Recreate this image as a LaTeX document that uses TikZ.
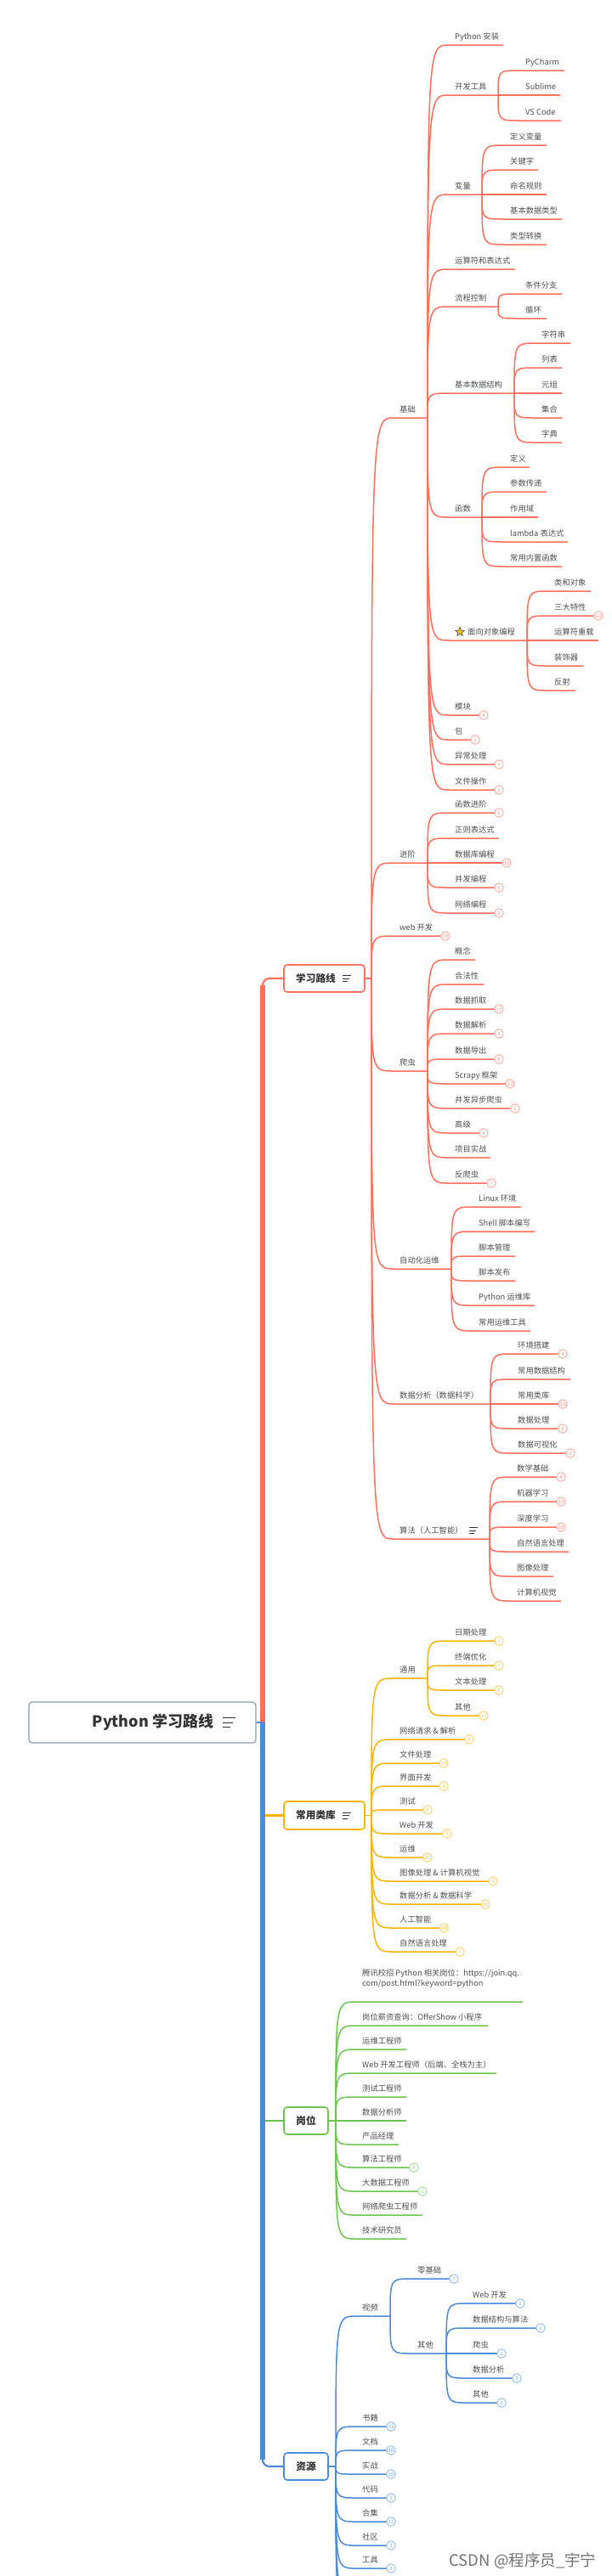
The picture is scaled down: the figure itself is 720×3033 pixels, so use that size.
\documentclass[tikz,border=0pt]{standalone}
\usepackage{fontspec}
\setmainfont{Noto Sans CJK SC}
\usetikzlibrary{calc,shapes.geometric}
\definecolor{cRed}{HTML}{FF6F5B}
\definecolor{cYel}{HTML}{FFB300}
\definecolor{cGrn}{HTML}{6CC64E}
\definecolor{cBlu}{HTML}{4B8BDA}
\definecolor{cRoot}{HTML}{8A9BB5}
\definecolor{cTxt}{HTML}{505050}
\definecolor{cDark}{HTML}{333333}
\definecolor{cStar}{HTML}{F9C31A}
\def\brc{cRed}
\tikzset{
  lbl/.style={anchor=base west, inner sep=0pt, font=\fontsize{9.3}{11.7}\selectfont, text=cTxt},
  br/.style={draw=\brc, line width=1.5pt},
  badge/.style={circle, draw=\brc!60, fill=white, line width=0.9pt, minimum size=10.5pt, inner sep=0pt, font=\fontsize{6}{6}\selectfont, text=\brc!75},
  mainbox/.style={draw=#1, line width=1.6pt, rounded corners=4pt, fill=white, inner sep=0pt},
  maintxt/.style={inner sep=0pt, font=\bfseries\fontsize{11.7}{13}\selectfont, text=cDark},
  menuicon/.pic={\draw[cDark, line width=0.8pt] (0,-3.5)--(10,-3.5) (0,0)--(8,0) (0,3.5)--(6,3.5);}
}
\newcommand\LF[6]{%
  \coordinate (#1s) at (#3-7,#4);
  \coordinate (#1e) at (#5,#4);
  \node[lbl] (#1) at (#3,#4-6.3) {#6};
  \draw[br] (#2) .. controls (#2 |- #1s) .. (#1s) -- (#1e);
}
\newcommand\LB[7]{%
  \coordinate (#1s) at (#3-7,#4);
  \node[lbl] (#1) at (#3,#4-6.3) {#7};
  \draw[br] (#2) .. controls (#2 |- #1s) .. (#1s) -- (#5-5.25,#4);
  \node[badge] (#1b) at (#5,#4) {#6};
}
\begin{document}
\begin{tikzpicture}[x=1pt,y=-1pt]
\useasboundingbox (0,0) rectangle (720,3033);
\fill[white] (0,0) rectangle (720,3033);

% ---------- root and trunk ----------
\node[draw=cRoot, line width=1.2pt, rounded corners=4pt, minimum width=267pt, minimum height=48pt, inner sep=0pt] (root) at (167.5,2028) {};
\node[inner sep=0pt, font=\bfseries\fontsize{18}{20}\selectfont, text=cDark] (roottxt) at (180,2028) {Python 学习路线};
\pic[scale=1.5] at (262,2028) {menuicon};
\coordinate (tr) at (309,2028);

\node[mainbox=cRed, minimum width=95pt, minimum height=32pt] (xx) at (381.5,1152) {};
\node[maintxt] (xxt) at (371.5,1152) {学习路线};
\pic at (403,1152) {menuicon};

\node[mainbox=cYel, minimum width=95pt, minimum height=33pt] (cy) at (381.5,2137.5) {};
\node[maintxt] (cyt) at (371.5,2137.5) {常用类库};
\pic at (403,2137.5) {menuicon};

\node[mainbox=cGrn, minimum width=52pt, minimum height=32pt] (gw) at (360,2497) {};
\node[maintxt] (gwt) at (360,2497) {岗位};

\node[mainbox=cBlu, minimum width=52pt, minimum height=32pt] (zy) at (360,2904) {};
\node[maintxt] (zyt) at (360,2904) {资源};

\draw[cRed, line width=5.5pt] (tr) -- ($(tr |- xx.west)+(0,8)$);
\draw[cRed, line width=2.2pt, rounded corners=8pt] ($(tr |- xx.west)+(0,14)$) |- (xx.west);
\draw[cBlu, line width=5.5pt] (tr) -- ($(tr |- zy.west)+(0,-8)$);
\draw[cBlu, line width=2.2pt, rounded corners=8pt] ($(tr |- zy.west)+(0,-14)$) |- (zy.west);
\draw[cBlu, line width=2.2pt] (root.east) -- (tr);
\draw[cYel, line width=2.2pt] ($(tr |- cy.west)+(2.7,0)$) -- (cy.west);
\draw[cGrn, line width=2.2pt] ($(tr |- gw.west)+(2.7,0)$) -- (gw.west);

% ---------- 学习路线 (red) ----------
\def\brc{cRed}
\coordinate (xxh) at (437,1152);
\draw[br] (xx.east) -- (xxh);
\LF{jc}{xxh}{470}{492}{503}{基础}
\LF{a1}{jce}{535}{53}{592}{Python 安装}
\LF{a2}{jce}{535}{112}{586}{开发工具}
\LF{a21}{a2e}{618}{83}{664}{PyCharm}
\LF{a22}{a2e}{618}{112}{659}{Sublime}
\LF{a23}{a2e}{618}{142}{660}{VS Code}
\LF{a3}{jce}{535}{229}{567}{变量}
\LF{a31}{a3e}{600}{171}{643}{定义变量}
\LF{a32}{a3e}{600}{200}{633}{关键字}
\LF{a33}{a3e}{600}{229}{643}{命名规则}
\LF{a34}{a3e}{600}{258}{661}{基本数据类型}
\LF{a35}{a3e}{600}{288}{643}{类型转换}
\LF{a4}{jce}{535}{317}{606}{运算符和表达式}
\LF{a5}{jce}{535}{361}{586}{流程控制}
\LF{a51}{a5e}{618}{346}{661}{条件分支}
\LF{a52}{a5e}{618}{375}{643}{循环}
\LF{a6}{jce}{535}{463}{605}{基本数据结构}
\LF{a61}{a6e}{637}{404}{671}{字符串}
\LF{a62}{a6e}{637}{433}{661}{列表}
\LF{a63}{a6e}{637}{463}{661}{元组}
\LF{a64}{a6e}{637}{492}{661}{集合}
\LF{a65}{a6e}{637}{521}{661}{字典}
\LF{a7}{jce}{535}{609}{567}{函数}
\LF{a71}{a7e}{600}{550}{623}{定义}
\LF{a72}{a7e}{600}{579}{643}{参数传递}
\LF{a73}{a7e}{600}{609}{633}{作用域}
\LF{a74}{a7e}{600}{638}{668}{lambda 表达式}
\LF{a75}{a7e}{600}{667}{661}{常用内置函数}
\coordinate (a8s) at (528,754);
\coordinate (a8e) at (620,754);
\node[lbl] (a8) at (550,747.7) {面向对象编程};
\node[star, star points=5, star point ratio=2.3, fill=cStar, draw=cDark, line width=0.5pt, minimum size=11pt, inner sep=0pt] (a8i) at (541,744) {};
\draw[br] (jce) .. controls (jce |- a8s) .. (a8s) -- (a8e);
\LF{a81}{a8e}{652}{696}{695}{类和对象}
\LB{a82}{a8e}{652}{725}{704}{13}{三大特性}
\LF{a83}{a8e}{652}{754}{704}{运算符重载}
\LF{a84}{a8e}{652}{784}{686}{装饰器}
\LF{a85}{a8e}{652}{813}{677}{反射}
\LB{a9}{jce}{535}{842}{569}{4}{模块}
\LB{a10}{jce}{535}{871}{559}{2}{包}
\LB{a11}{jce}{535}{900}{587}{3}{异常处理}
\LB{a12}{jce}{535}{930}{587}{2}{文件操作}

\LF{jj}{xxh}{470}{1016}{503}{进阶}
\LB{b1}{jje}{535}{957}{587}{5}{函数进阶}
\LF{b2}{jje}{535}{987}{587}{正则表达式}
\LB{b3}{jje}{535}{1016}{596}{10}{数据库编程}
\LB{b4}{jje}{535}{1045}{587}{6}{并发编程}
\LB{b5}{jje}{535}{1075}{587}{3}{网络编程}
\LB{wb}{xxh}{470}{1102}{524}{39}{web 开发}

\LF{pc}{xxh}{470}{1261}{503}{爬虫}
\LF{c1}{pce}{535}{1130}{559}{概念}
\LF{c2}{pce}{535}{1159}{569}{合法性}
\LB{c3}{pce}{535}{1188}{587}{15}{数据抓取}
\LB{c4}{pce}{535}{1217}{587}{4}{数据解析}
\LB{c5}{pce}{535}{1247}{587}{8}{数据导出}
\LB{c6}{pce}{535}{1276}{600}{12}{Scrapy 框架}
\LB{c7}{pce}{535}{1305}{606}{2}{并发异步爬虫}
\LB{c8}{pce}{535}{1334}{569}{4}{高级}
\LF{c9}{pce}{535}{1363}{577}{项目实战}
\LB{c10}{pce}{535}{1393}{578}{7}{反爬虫}

\LF{zd}{xxh}{470}{1494}{531}{自动化运维}
\LF{d1}{zde}{563}{1421}{613}{Linux 环境}
\LF{d2}{zde}{563}{1450}{629}{Shell 脚本编写}
\LF{d3}{zde}{563}{1479}{606}{脚本管理}
\LF{d4}{zde}{563}{1508}{606}{脚本发布}
\LF{d5}{zde}{563}{1537}{629}{Python 运维库}
\LF{d6}{zde}{563}{1567}{624}{常用运维工具}

\LF{sj}{xxh}{470}{1653}{577}{数据分析（数据科学）}
\LB{e1}{sje}{609}{1594}{662}{4}{环境搭建}
\LF{e2}{sje}{609}{1624}{671}{常用数据结构}
\LB{e3}{sje}{609}{1653}{662}{13}{常用类库}
\LB{e4}{sje}{609}{1682}{662}{6}{数据处理}
\LB{e5}{sje}{609}{1711}{671}{3}{数据可视化}

\LF{sf}{xxh}{470}{1812}{576}{算法（人工智能）}
\pic at (552,1802) {menuicon};
\LB{f1}{sfe}{608}{1739}{660}{4}{数学基础}
\LB{f2}{sfe}{608}{1768}{660}{33}{机器学习}
\LB{f3}{sfe}{608}{1798}{660}{13}{深度学习}
\LF{f4}{sfe}{608}{1827}{669}{自然语言处理}
\LF{f5}{sfe}{608}{1856}{651}{图像处理}
\LF{f6}{sfe}{608}{1885}{660}{计算机视觉}

% ---------- 常用类库 (yellow) ----------
\def\brc{cYel}
\coordinate (cyh) at (437,2137.5);
\draw[br] (cy.east) -- (cyh);
\LF{ty}{cyh}{470}{1976}{503}{通用}
\LB{g1}{tye}{535}{1932}{587}{3}{日期处理}
\LB{g2}{tye}{535}{1961}{587}{7}{终端优化}
\LB{g3}{tye}{535}{1990}{587}{5}{文本处理}
\LB{g4}{tye}{535}{2020}{569}{12}{其他}
\LB{h1}{cyh}{470}{2048}{552}{8}{网络请求 \& 解析}
\LB{h2}{cyh}{470}{2076}{522}{14}{文件处理}
\LB{h3}{cyh}{470}{2103}{522}{9}{界面开发}
\LB{h4}{cyh}{470}{2131}{503}{5}{测试}
\LB{h5}{cyh}{470}{2159}{526}{5}{Web 开发}
\LB{h6}{cyh}{470}{2187}{503}{10}{运维}
\LB{h7}{cyh}{470}{2215}{580}{5}{图像处理 \& 计算机视觉}
\LB{h8}{cyh}{470}{2242}{571}{11}{数据分析 \& 数据科学}
\LB{h9}{cyh}{470}{2270}{522}{10}{人工智能}
\LB{h10}{cyh}{470}{2298}{541}{7}{自然语言处理}

% ---------- 岗位 (green) ----------
\def\brc{cGrn}
\coordinate (gwh) at (395,2497);
\draw[br] (gw.east) -- (gwh);
\coordinate (k1s) at (419,2357);
\coordinate (k1e) at (615,2357);
\node[lbl, align=left] (k1) at (426,2338.5) {腾讯校招 Python 相关岗位：https://join.qq.\\com/post.html?keyword=python};
\draw[br] (gwh) .. controls (gwh |- k1s) .. (k1s) -- (k1e);
\LF{k2}{gwh}{426}{2385}{574}{岗位薪资查询：OfferShow 小程序}
\LF{k3}{gwh}{426}{2413}{478}{运维工程师}
\LF{k4}{gwh}{426}{2441}{584}{Web 开发工程师（后端、全栈为主）}
\LF{k5}{gwh}{426}{2469}{478}{测试工程师}
\LF{k6}{gwh}{426}{2497}{478}{数据分析师}
\LF{k7}{gwh}{426}{2525}{469}{产品经理}
\LB{k8}{gwh}{426}{2552}{487}{4}{算法工程师}
\LB{k9}{gwh}{426}{2580}{497}{2}{大数据工程师}
\LF{k10}{gwh}{426}{2608}{497}{网络爬虫工程师}
\LF{k11}{gwh}{426}{2636}{478}{技术研究员}

% ---------- 资源 (blue) ----------
\def\brc{cBlu}
\coordinate (zyh) at (395,2904);
\draw[br] (zy.east) -- (zyh);
\LF{sp}{zyh}{426}{2727}{459}{视频}
\LB{m1}{spe}{491}{2683}{534}{7}{零基础}
\LF{m2}{spe}{491}{2771}{525}{其他}
\LB{n1}{m2e}{556}{2712}{612}{2}{Web 开发}
\LB{n2}{m2e}{556}{2741}{636}{2}{数据结构与算法}
\LB{n3}{m2e}{556}{2771}{590}{2}{爬虫}
\LB{n4}{m2e}{556}{2800}{608}{3}{数据分析}
\LB{n5}{m2e}{556}{2829}{590}{2}{其他}
\LB{p1}{zyh}{426}{2857}{460}{13}{书籍}
\LB{p2}{zyh}{426}{2885}{460}{10}{文档}
\LB{p3}{zyh}{426}{2913}{460}{10}{实战}
\LB{p4}{zyh}{426}{2941}{460}{5}{代码}
\LB{p5}{zyh}{426}{2969}{460}{12}{合集}
\LB{p6}{zyh}{426}{2997}{460}{3}{社区}
\LB{p7}{zyh}{426}{3024}{460}{3}{工具}
\begin{scope}
\clip (0,0) rectangle (720,3033);
\coordinate (q1s) at (419,3052);
\coordinate (q2s) at (419,3080);
\draw[br] (zyh) .. controls (zyh |- q1s) .. (q1s);
\draw[br] (zyh) .. controls (zyh |- q2s) .. (q2s);
\end{scope}

% watermark
\node[inner sep=0pt, font=\fontsize{18.5}{20}\selectfont, text=black!55] (wm) at (615,3015) {CSDN @程序员\_宇宁};
\end{tikzpicture}
\end{document}
